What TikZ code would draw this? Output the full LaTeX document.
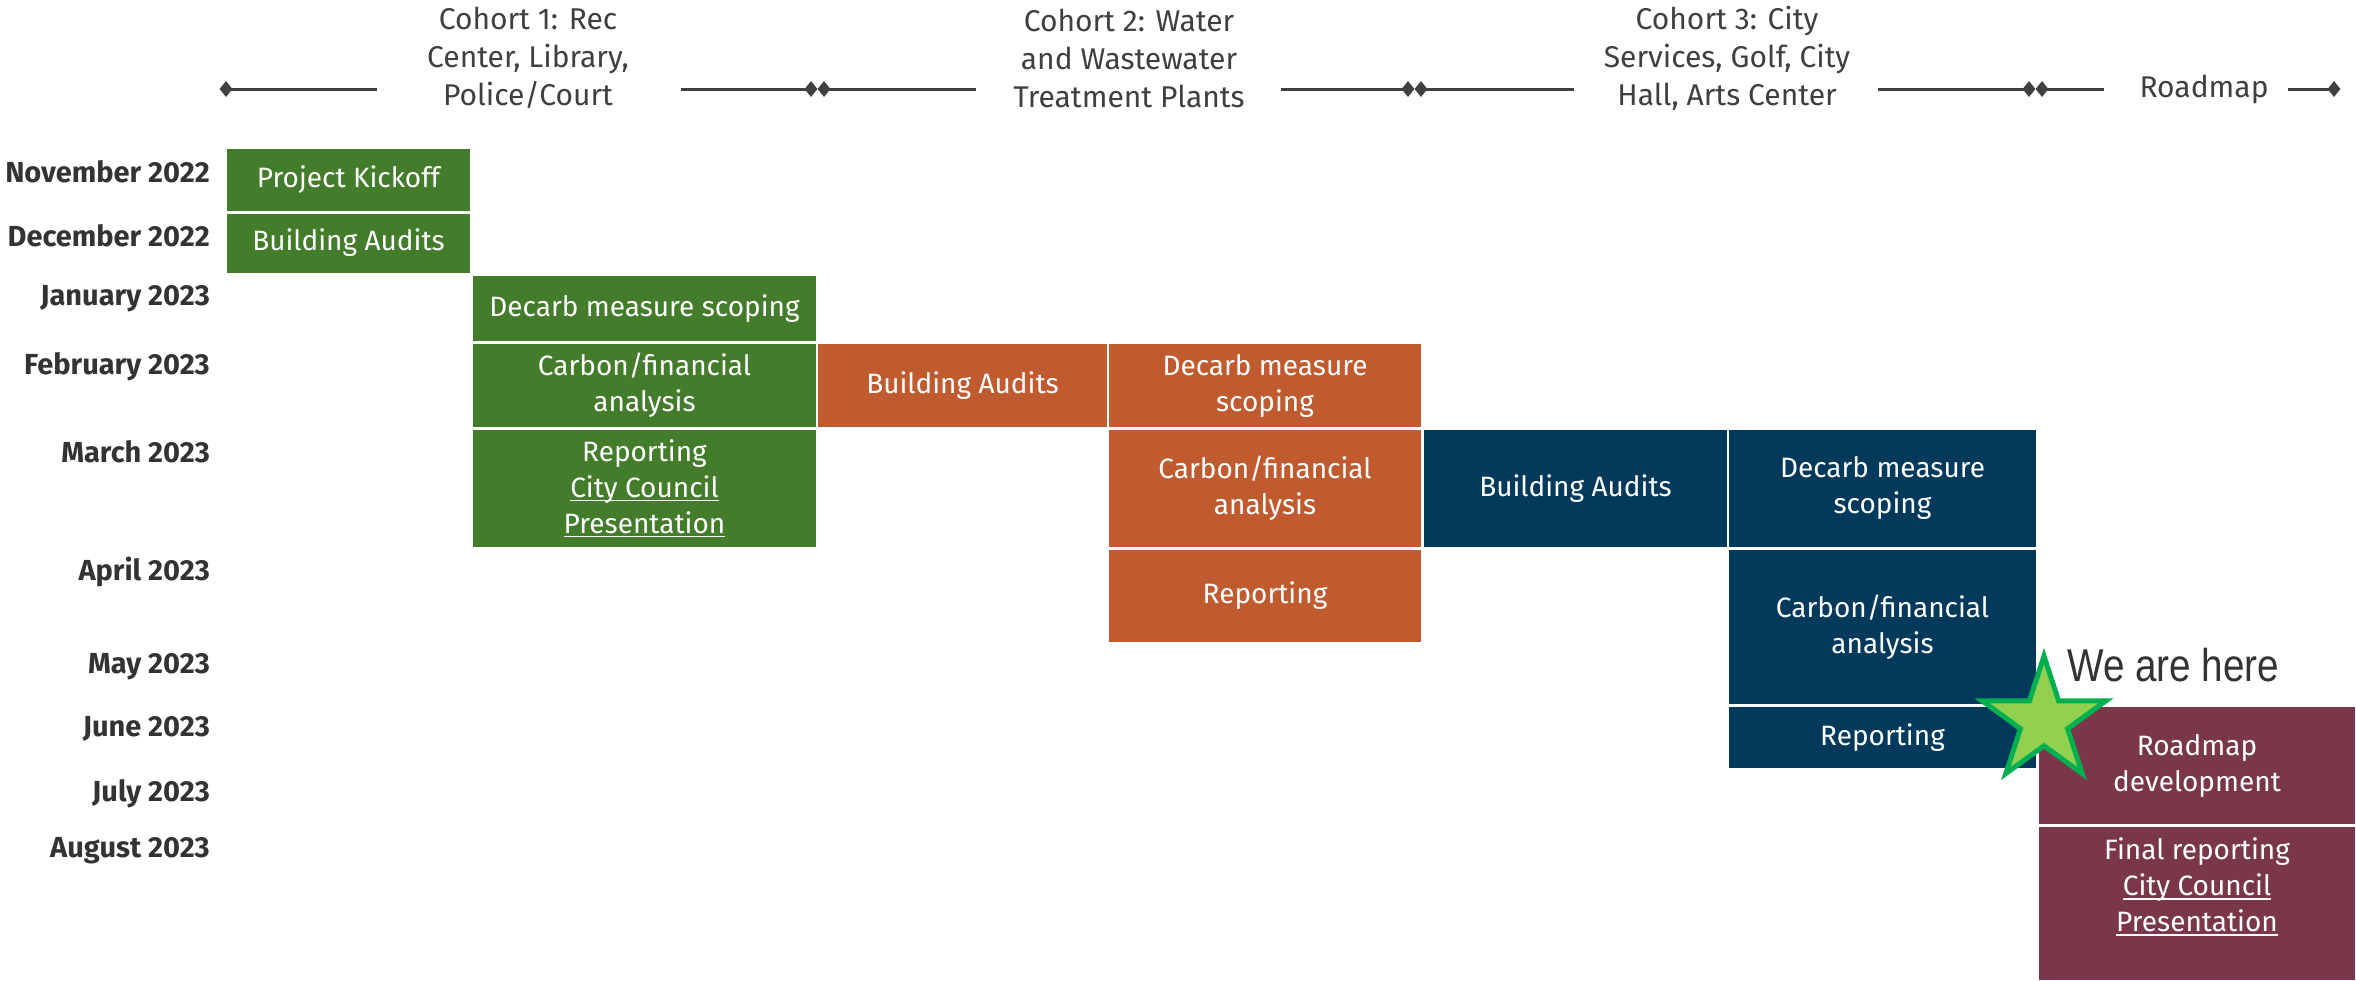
\documentclass[tikz,border=0pt]{standalone}
\usepackage{fontspec}
\setmainfont{Fira Sans}
\newfontfamily\herefont{Liberation Sans}
\usetikzlibrary{shapes.geometric}
\definecolor{cgreen}{HTML}{437C2A}
\definecolor{corange}{HTML}{C05A2F}
\definecolor{cnavy}{HTML}{033A5C}
\definecolor{cmaroon}{HTML}{7A3749}
\definecolor{starfill}{HTML}{92D050}
\definecolor{starline}{HTML}{00B050}
\definecolor{linegray}{HTML}{404040}
\definecolor{labelgray}{HTML}{333333}
\definecolor{cohgray}{HTML}{3F3F3F}
\newcommand\myul[1]{\setbox0=\hbox{#1}\leavevmode\rlap{\rule[-4pt]{\wd0}{1.6pt}}\box0}
\tikzset{
  box/.style={inner sep=0pt, text=white, align=center, font=\fontsize{28}{36}\selectfont},
  boxtext/.style={inner sep=0pt, text=white, align=center, font=\fontsize{28}{36}\selectfont},
  month/.style={anchor=east, inner sep=0pt, text=labelgray, font=\bfseries\fontsize{29}{34}\selectfont},
  cohort/.style={inner sep=0pt, align=center, text=cohgray, font=\fontsize{30}{38}\selectfont},
  tl/.style={line width=3pt, draw=linegray},
  dia/.style={diamond, fill=linegray, inner sep=0pt, minimum width=13pt, minimum height=16pt}
}
\begin{document}
\begin{tikzpicture}[x=1pt,y=-1pt]
\useasboundingbox (0,0) rectangle (2356,980);
% timeline
\node[dia] (d0) at (226,89) {};
\coordinate (e1) at (377,89);
\coordinate (s2) at (681,89);
\node[dia] (d1a) at (811,89) {};
\node[dia] (d1b) at (824,89) {};
\coordinate (e2) at (976,89);
\coordinate (s3) at (1281,89);
\node[dia] (d2a) at (1408,89) {};
\node[dia] (d2b) at (1421,89) {};
\coordinate (e3) at (1574,89);
\coordinate (s4) at (1878,89);
\node[dia] (d3a) at (2029,89) {};
\node[dia] (d3b) at (2042,89) {};
\coordinate (e4) at (2104,89);
\coordinate (s5) at (2288,89);
\node[dia] (d4) at (2334,89) {};
\draw[tl] (d0.center) -- (e1);
\draw[tl] (s2) -- (d1a.center);
\draw[tl] (d1b.center) -- (e2);
\draw[tl] (s3) -- (d2a.center);
\draw[tl] (d2b.center) -- (e3);
\draw[tl] (s4) -- (d3a.center);
\draw[tl] (d3b.center) -- (e4);
\draw[tl] (s5) -- (d4.center);
\node[cohort] (c1) at (528,58) {Cohort 1: Rec\\Center, Library,\\Police/Court};
\node[cohort] (c2) at (1129,58) {Cohort 2: Water\\and Wastewater\\Treatment Plants};
\node[cohort] (c3) at (1727,58) {Cohort 3: City\\Services, Golf, City\\Hall, Arts Center};
\node[cohort] (c4) at (2204,89) {Roadmap};
% months
\node[month] (m1) at (210,172) {November 2022};
\node[month] (m2) at (210,236) {December 2022};
\node[month] (m3) at (210,299) {January 2023};
\node[month] (m4) at (210,367) {February 2023};
\node[month] (m5) at (210,452) {March 2023};
\node[month] (m6) at (210,572) {April 2023};
\node[month] (m7) at (210,667) {May 2023};
\node[month] (m8) at (210,729) {June 2023};
\node[month] (m9) at (210,794) {July 2023};
\node[month] (m10) at (210,851) {August 2023};
% cohort 1 boxes
\node[box, fill=cgreen, minimum width=243pt, minimum height=62pt] (kick) at (348.5,180) {Project Kickoff};
\node[box, fill=cgreen, minimum width=243pt, minimum height=59pt] (aud1) at (348.5,243) {Building Audits};
\node[box, fill=cgreen, minimum width=343pt, minimum height=65pt] (dec1) at (644.5,308.5) {Decarb measure scoping};
\node[box, fill=cgreen, minimum width=343pt, minimum height=83pt] (car1) at (644.5,385.5) {Carbon/financial\\analysis};
\node[box, fill=cgreen, minimum width=343pt, minimum height=117.5pt] (rep1) at (644.5,488.25) {Reporting\\\myul{City Council}\\\myul{Presentation}};
% cohort 2 boxes
\node[box, fill=corange, minimum width=289pt, minimum height=83pt] (aud2) at (962.5,385.5) {Building Audits};
\node[box, fill=corange, minimum width=312pt, minimum height=83pt] (dec2) at (1265,385.5) {Decarb measure\\scoping};
\node[box, fill=corange, minimum width=312pt, minimum height=117.5pt] (car2) at (1265,488.25) {Carbon/financial\\analysis};
\node[box, fill=corange, minimum width=312pt, minimum height=92pt] (rep2) at (1265,596) {Reporting};
% cohort 3 boxes
\node[box, fill=cnavy, minimum width=303pt, minimum height=117.5pt] (aud3) at (1575.5,488.25) {Building Audits};
\node[box, fill=cnavy, minimum width=307pt, minimum height=117.5pt] (dec3) at (1882.5,488.25) {Decarb measure\\scoping};
\node[box, fill=cnavy, minimum width=307pt, minimum height=154pt] (car3) at (1882.5,627) {Carbon/financial\\analysis};
\node[box, fill=cnavy, minimum width=307pt, minimum height=61pt] (rep3) at (1882.5,737.5) {Reporting};
% roadmap boxes
\node[box, fill=cmaroon, minimum width=316pt, minimum height=117pt] (road) at (2197,765.5) {Roadmap\\development};
\node[box, fill=cmaroon, minimum width=316pt, minimum height=153pt] (fin) at (2197,903.5) {};
\node[boxtext] (fintext) at (2197,887) {Final reporting\\\myul{City Council}\\\myul{Presentation}};
% star
\node[star, star points=5, star point ratio=2.618, minimum size=130pt, inner sep=0pt, fill=starfill, draw=starline, line width=5pt] (star) at (2044,721) {};
\node[inner sep=0pt, anchor=west, text=labelgray] (here) at (2067,665) {\scalebox{0.84}[1]{\herefont\fontsize{46}{46}\selectfont We are here}};
\end{tikzpicture}
\end{document}
